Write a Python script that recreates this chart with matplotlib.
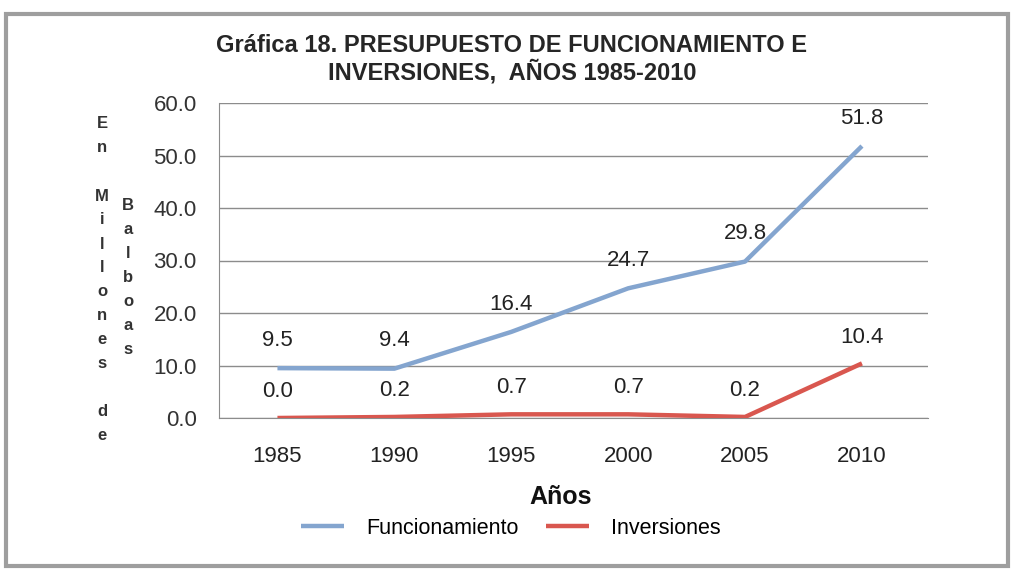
import matplotlib.pyplot as plt
from matplotlib.patches import Rectangle

years = ['1985', '1990', '1995', '2000', '2005', '2010']
funcionamiento = [9.5, 9.4, 16.4, 24.7, 29.8, 51.8]
inversiones = [0.0, 0.2, 0.7, 0.7, 0.2, 10.4]
yticks = [0, 10, 20, 30, 40, 50, 60]

plt.rcParams['font.family'] = ['Liberation Sans', 'DejaVu Sans']

blue = '#84a5cf'
red = '#d9574f'
grid = '#8c8c8c'

fig = plt.figure(figsize=(10.16, 5.74), dpi=100)
W, H = 1016, 574
ax = fig.add_axes([219 / W, 1 - 418 / H, (928 - 219) / W, (418 - 103) / H])

x = list(range(len(years)))
l1, = ax.plot(x, funcionamiento, color=blue, lw=3.2, solid_capstyle='butt', zorder=3)
l2, = ax.plot(x, inversiones, color=red, lw=3.2, solid_capstyle='butt', zorder=3)

for xi, v in zip(x, funcionamiento):
    ax.annotate(f'{v:.1f}', (xi, v), xytext=(0, 20), textcoords='offset points',
                ha='center', va='center', fontsize=16, color='#222222')
for xi, v in zip(x, inversiones):
    ax.annotate(f'{v:.1f}', (xi, v), xytext=(0, 19), textcoords='offset points',
                ha='center', va='center', fontsize=16, color='#222222')

ax.set_xlim(-0.5, 5.565)
ax.set_ylim(0, 60)
ax.set_yticks(yticks)
ax.set_yticklabels([f'{t:.1f}' for t in yticks], fontsize=16, color='#333333')
ax.set_xticks(x)
ax.set_xticklabels(years, fontsize=16, color='#222222')
ax.tick_params(length=0)
ax.tick_params(axis='y', pad=16)
ax.tick_params(axis='x', pad=20)
ax.yaxis.grid(True, color=grid, lw=1)
ax.set_axisbelow(True)
for s in ['top', 'right']:
    ax.spines[s].set_visible(False)
ax.spines['left'].set_color(grid)
ax.spines['bottom'].set_color(grid)

fig.text(512 / W, 1 - 45 / H, 'Gráfica 18. PRESUPUESTO DE FUNCIONAMIENTO E',
         ha='center', va='center', fontsize=17, fontweight='bold', color='#262626')
fig.text(512 / W, 1 - 72 / H, 'INVERSIONES,  AÑOS 1985-2010',
         ha='center', va='center', fontsize=17, fontweight='bold', color='#262626')

fig.text(561 / W, 1 - 497 / H, 'Años', ha='center', va='center',
         fontsize=18, fontweight='bold', color='#111111')

col1 = 'En Millones de'
col2 = 'Balboas'
for i, ch in enumerate(col1):
    fig.text(102 / W, 1 - (124 + 24 * i) / H, ch, ha='center', va='center',
             fontsize=12, fontweight='bold', color='#333333')
for i, ch in enumerate(col2):
    fig.text(128 / W, 1 - (206 + 24 * i) / H, ch, ha='center', va='center',
             fontsize=12, fontweight='bold', color='#333333')

fig.legend([l1, l2], ['Funcionamiento', 'Inversiones'], loc='center',
           bbox_to_anchor=(511 / W, 1 - 528 / H), ncol=2, frameon=False,
           fontsize=15.5, handlelength=2.0, columnspacing=1.3, handletextpad=1.0)

fig.add_artist(Rectangle((6 / W, 8 / H), 1002 / W, (562 - 10) / H,
                         transform=fig.transFigure, fill=False,
                         edgecolor='#9e9e9e', lw=3))

fig.savefig('out.png', dpi=100)
